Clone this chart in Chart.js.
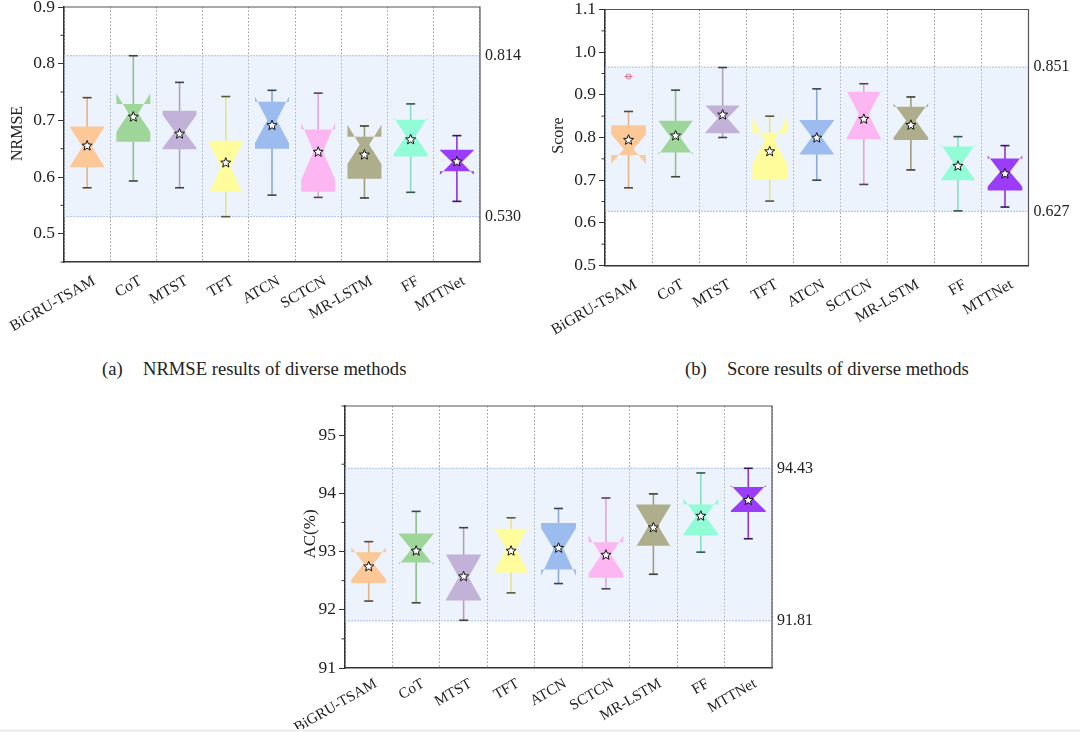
<!DOCTYPE html>
<html><head><meta charset="utf-8">
<script src="https://cdn.jsdelivr.net/npm/chart.js@4.4.1/dist/chart.umd.min.js"></script>
<style>
body{margin:0;background:#fff;}
#wrap{position:relative;width:1080px;height:732px;overflow:hidden;font-family:"Liberation Serif","Times New Roman",serif;color:#222;}
canvas{position:absolute;}
.cap{position:absolute;font-size:18.6px;line-height:22px;white-space:nowrap;}
#strip{position:absolute;left:0;top:729px;width:1080px;height:3px;background:#f1f1f1;}
</style></head>
<body><div id="wrap">
<canvas id="ca" width="540" height="345" style="left:0;top:0"></canvas>
<canvas id="cb" width="540" height="345" style="left:540px;top:0"></canvas>
<canvas id="cc" width="560" height="342" style="left:280px;top:390px"></canvas>
<div class="cap" style="left:102px;top:358px">(a)</div>
<div class="cap" style="left:143px;top:358px">NRMSE results of diverse methods</div>
<div class="cap" style="left:685px;top:358px">(b)</div>
<div class="cap" style="left:727px;top:358px">Score results of diverse methods</div>
<div id="strip"></div>
</div>
<script>
// ---------- categories & colours ----------
const methods = ['BiGRU-TSAM','CoT','MTST','TFT','ATCN','SCTCN','MR-LSTM','FF','MTTNet'];
const boxColors = ['#fcc898','#9ed69a','#c2b2d8','#fffc9c','#9cbcf0','#fcb6f2','#aeae8c','#92fcd6','#9a3cf8'];

// ---------- (a) NRMSE ----------
const nrmseMin  = [0.581,0.593,0.581,0.530,0.568,0.564,0.563,0.573,0.557];
const nrmseQ1   = [0.617,0.662,0.649,0.574,0.650,0.574,0.597,0.636,0.610];
const nrmseNLo  = [0.619,0.680,0.651,0.570,0.660,0.595,0.623,0.640,0.604];
const nrmseMed  = [0.654,0.712,0.680,0.617,0.700,0.645,0.657,0.672,0.626];
const nrmseNHi  = [0.687,0.748,0.710,0.662,0.742,0.696,0.692,0.706,0.647];
const nrmseQ3   = [0.689,0.729,0.717,0.664,0.733,0.684,0.671,0.701,0.648];
const nrmseMax  = [0.740,0.814,0.767,0.742,0.753,0.748,0.690,0.729,0.673];
const nrmseMean = [0.655,0.706,0.676,0.625,0.691,0.644,0.639,0.666,0.627];
const nrmseOut  = [[],[],[],[],[],[],[],[],[]];
const nrmseTicks = [0.5,0.6,0.7,0.8,0.9];
const nrmseTickLabels = ['0.5','0.6','0.7','0.8','0.9'];
const nrmseBand = [0.530,0.814];
const nrmseBandLabels = ['0.530','0.814'];

// ---------- (b) Score ----------
const scoreMin  = [0.682,0.708,0.800,0.651,0.700,0.690,0.724,0.628,0.637];
const scoreQ1   = [0.759,0.765,0.810,0.701,0.760,0.796,0.794,0.700,0.676];
const scoreNLo  = [0.738,0.759,0.812,0.738,0.761,0.797,0.800,0.700,0.685];
const scoreMed  = [0.773,0.800,0.845,0.792,0.801,0.854,0.840,0.742,0.720];
const scoreNHi  = [0.807,0.839,0.875,0.847,0.840,0.911,0.880,0.784,0.758];
const scoreQ3   = [0.829,0.839,0.875,0.811,0.841,0.907,0.872,0.779,0.751];
const scoreMax  = [0.861,0.911,0.964,0.850,0.914,0.926,0.895,0.802,0.781];
const scoreMean = [0.794,0.804,0.853,0.767,0.799,0.843,0.829,0.733,0.715];
const scoreOut  = [[0.943],[],[],[],[],[],[],[],[]];
const scoreTicks = [0.5,0.6,0.7,0.8,0.9,1.0,1.1];
const scoreTickLabels = ['0.5','0.6','0.7','0.8','0.9','1.0','1.1'];
const scoreBand = [0.627,0.965];
const scoreBandLabels = ['0.627','0.851'];

// ---------- (c) AC(%) ----------
const acMin  = [92.15,92.12,91.82,92.29,92.45,92.36,92.61,92.99,93.22];
const acQ1   = [92.46,92.81,92.16,92.64,92.69,92.55,93.10,93.28,93.68];
const acNLo  = [92.52,92.77,92.18,92.64,92.58,92.62,93.08,93.30,93.70];
const acMed  = [92.79,93.04,92.56,93.04,93.05,92.94,93.44,93.60,93.91];
const acNHi  = [93.08,93.30,92.94,93.44,93.40,93.28,93.80,93.92,94.14];
const acQ3   = [92.99,93.31,92.95,93.39,93.49,93.16,93.81,93.81,94.11];
const acMax  = [93.17,93.69,93.41,93.58,93.74,93.92,93.99,94.35,94.43];
const acMean = [92.74,93.01,92.57,93.01,93.06,92.94,93.41,93.61,93.88];
const acOut  = [[],[],[],[],[],[],[],[],[]];
const acTicks = [91,92,93,94,95];
const acTickLabels = ['91','92','93','94','95'];
const acBand = [91.81,94.43];
const acBandLabels = ['91.81','94.43'];

// ---------- helpers ----------
function shade(hex, f){
  const n = parseInt(hex.slice(1),16);
  const r=(n>>16)&255,g=(n>>8)&255,b=n&255;
  return 'rgb('+Math.round(r*f)+','+Math.round(g*f)+','+Math.round(b*f)+')';
}
function drawStar(ctx,x,y,R,r){
  ctx.beginPath();
  for(let k=0;k<10;k++){
    const a=-Math.PI/2+k*Math.PI/5, rad=(k%2)?r:R;
    ctx.lineTo(x+rad*Math.cos(a), y+rad*Math.sin(a));
  }
  ctx.closePath();
  ctx.fillStyle='#fff'; ctx.fill();
  ctx.strokeStyle='#111'; ctx.lineWidth=1; ctx.stroke();
}
const SERIF='"Liberation Serif", "Times New Roman", serif';

function makeChart(id, s){
  const canvas = document.getElementById(id);
  const W = canvas.width, H = canvas.height;
  const plugin = {
    id:'notch_'+id,
    beforeDatasetsDraw(chart){
      const ctx=chart.ctx, a=chart.chartArea, y=chart.scales.y;
      const yh=y.getPixelForValue(s.band[1]), yl=y.getPixelForValue(s.band[0]);
      ctx.save();
      ctx.fillStyle='rgba(200,220,250,0.33)';
      ctx.fillRect(a.left, yh, a.right-a.left, yl-yh);
      ctx.strokeStyle='#a9bcf2'; ctx.lineWidth=1; ctx.setLineDash([2,1]);
      [yh,yl].forEach(p=>{ctx.beginPath();ctx.moveTo(a.left,p);ctx.lineTo(a.right,p);ctx.stroke();});
      ctx.restore();
    },
    afterDatasetsDraw(chart){
      const ctx=chart.ctx, y=chart.scales.y;
      const meta=chart.getDatasetMeta(0);
      const py=v=>y.getPixelForValue(v);
      ctx.save();
      meta.data.forEach((bar,i)=>{
        const x=bar.x, w=bar.width, L=x-w/2, R=x+w/2, ind=w*0.36;
        const col=boxColors[i];
        ctx.strokeStyle=shade(col,0.9); ctx.lineWidth=1.6;
        ctx.beginPath(); ctx.moveTo(x,py(s.min[i])); ctx.lineTo(x,py(s.max[i])); ctx.stroke();
        ctx.fillStyle=col;
        ctx.beginPath();
        ctx.moveTo(L,py(s.q1[i])); ctx.lineTo(L,py(s.nlo[i])); ctx.lineTo(L+ind,py(s.med[i]));
        ctx.lineTo(L,py(s.nhi[i])); ctx.lineTo(L,py(s.q3[i])); ctx.lineTo(R,py(s.q3[i]));
        ctx.lineTo(R,py(s.nhi[i])); ctx.lineTo(R-ind,py(s.med[i])); ctx.lineTo(R,py(s.nlo[i]));
        ctx.lineTo(R,py(s.q1[i])); ctx.closePath(); ctx.fill();
        ctx.strokeStyle=shade(col,0.35); ctx.lineWidth=1.6;
        [s.min[i],s.max[i]].forEach(v=>{ctx.beginPath();ctx.moveTo(x-4.5,py(v));ctx.lineTo(x+4.5,py(v));ctx.stroke();});
        s.out[i].forEach(v=>{
          ctx.strokeStyle='#e0708c'; ctx.lineWidth=1;
          ctx.beginPath(); ctx.arc(x,py(v),2.5,0,Math.PI*2); ctx.stroke();
          ctx.beginPath(); ctx.moveTo(x-4,py(v)); ctx.lineTo(x+4,py(v)); ctx.stroke();
        });
        drawStar(ctx,x,py(s.mean[i]),5.3,2.3);
      });
      ctx.restore();
    },
    afterDraw(chart){
      const ctx=chart.ctx, a=chart.chartArea, y=chart.scales.y;
      ctx.save();
      ctx.strokeStyle='#555'; ctx.lineWidth=1.2;
      ctx.beginPath(); ctx.moveTo(a.left,a.top); ctx.lineTo(a.right,a.top); ctx.lineTo(a.right,a.bottom); ctx.stroke();
      ctx.strokeStyle='#333'; ctx.lineWidth=1;
      for(let k=0;k<s.ticks.length;k++){
        const v=s.ticks[k]+s.minorStep;
        if(v<=y.max+1e-9 && v>=y.min-1e-9){const p=y.getPixelForValue(v);ctx.beginPath();ctx.moveTo(a.left,p);ctx.lineTo(a.left-3.5,p);ctx.stroke();}
      }
      ctx.fillStyle='#222'; ctx.font='16px '+SERIF;
      ctx.textBaseline='middle'; ctx.textAlign='left';
      ctx.fillText(s.bandLabels[1], a.right+5, y.getPixelForValue(s.band[1]));
      ctx.fillText(s.bandLabels[0], a.right+5, y.getPixelForValue(s.band[0]));
      ctx.translate(s.titleX,(a.top+a.bottom)/2+s.titleDy);
      ctx.rotate(-Math.PI/2);
      ctx.textAlign='center'; ctx.textBaseline='middle';
      ctx.font=s.tFont+'px '+SERIF;
      ctx.fillText(s.yTitle,0,0);
      ctx.restore();
    }
  };
  return new Chart(canvas,{
    type:'bar',
    data:{labels:methods,datasets:[{
      data:s.q1.map((v,i)=>[v,s.q3[i]]),
      backgroundColor:'rgba(0,0,0,0)', borderWidth:0,
      barPercentage:0.735, categoryPercentage:1
    }]},
    options:{
      responsive:false, animation:false, events:[],
      devicePixelRatio:1,
      layout:{padding:{left:0,top:s.area.top,right:W-s.area.right,bottom:0}},
      plugins:{legend:{display:false},tooltip:{enabled:false}},
      scales:{
        x:{
          offset:true,
          grid:{display:true,offset:true,color:'#9a9a9a',lineWidth:1,drawTicks:false},
          border:{display:true,color:'#333',width:1.5,dash:[1.5,2]},
          ticks:{color:'#222',font:{family:SERIF,size:s.xFont},
                 minRotation:30,maxRotation:30,padding:s.xPad,labelOffset:7,autoSkip:false},
          afterFit(sc){sc.height=H-s.area.bottom;sc.paddingLeft=0;sc.paddingRight=0;sc.paddingTop=0;sc.paddingBottom=0;}
        },
        y:{
          min:s.yMin,max:s.yMax,
          grid:{drawOnChartArea:false,drawTicks:true,tickLength:6,tickColor:'#333',tickWidth:1},
          border:{display:true,color:'#333',width:1.5},
          ticks:{color:'#222',font:{family:SERIF,size:17.5},padding:3,
                 callback:(v)=>{const k=s.ticks.findIndex(t=>Math.abs(t-v)<1e-9);return k>=0?s.tickLabels[k]:'';}},
          afterBuildTicks(sc){sc.ticks=s.ticks.map(v=>({value:v}));},
          title:{display:false},
          afterFit(sc){sc.width=s.area.left;sc.paddingLeft=0;sc.paddingRight=0;sc.paddingTop=0;sc.paddingBottom=0;}
        }
      }
    },
    plugins:[plugin]
  });
}

makeChart('ca',{
  min:nrmseMin,q1:nrmseQ1,nlo:nrmseNLo,med:nrmseMed,nhi:nrmseNHi,q3:nrmseQ3,max:nrmseMax,mean:nrmseMean,out:nrmseOut,
  ticks:nrmseTicks,tickLabels:nrmseTickLabels,band:nrmseBand,bandLabels:nrmseBandLabels,
  yMin:0.45,yMax:0.9,minorStep:-0.05,yTitle:'NRMSE',tFont:16,titleX:18,titleDy:-1,xFont:15.5,xPad:10,
  area:{left:64,top:7,right:480,bottom:262}
});
makeChart('cb',{
  min:scoreMin,q1:scoreQ1,nlo:scoreNLo,med:scoreMed,nhi:scoreNHi,q3:scoreQ3,max:scoreMax,mean:scoreMean,out:scoreOut,
  ticks:scoreTicks,tickLabels:scoreTickLabels,band:scoreBand,bandLabels:scoreBandLabels,
  yMin:0.5,yMax:1.1,minorStep:0.05,yTitle:'Score',tFont:16,titleX:19,titleDy:-2,xFont:15.5,xPad:10,
  area:{left:65,top:9.5,right:488.5,bottom:265.5}
});
makeChart('cc',{
  min:acMin,q1:acQ1,nlo:acNLo,med:acMed,nhi:acNHi,q3:acQ3,max:acMax,mean:acMean,out:acOut,
  ticks:acTicks,tickLabels:acTickLabels,band:acBand,bandLabels:acBandLabels,
  yMin:91,yMax:95.5,minorStep:0.5,yTitle:'AC(%)',tFont:17,titleX:31,titleDy:-3,xFont:15,xPad:7,
  area:{left:65,top:16,right:492,bottom:278}
});
</script>
</body></html>
